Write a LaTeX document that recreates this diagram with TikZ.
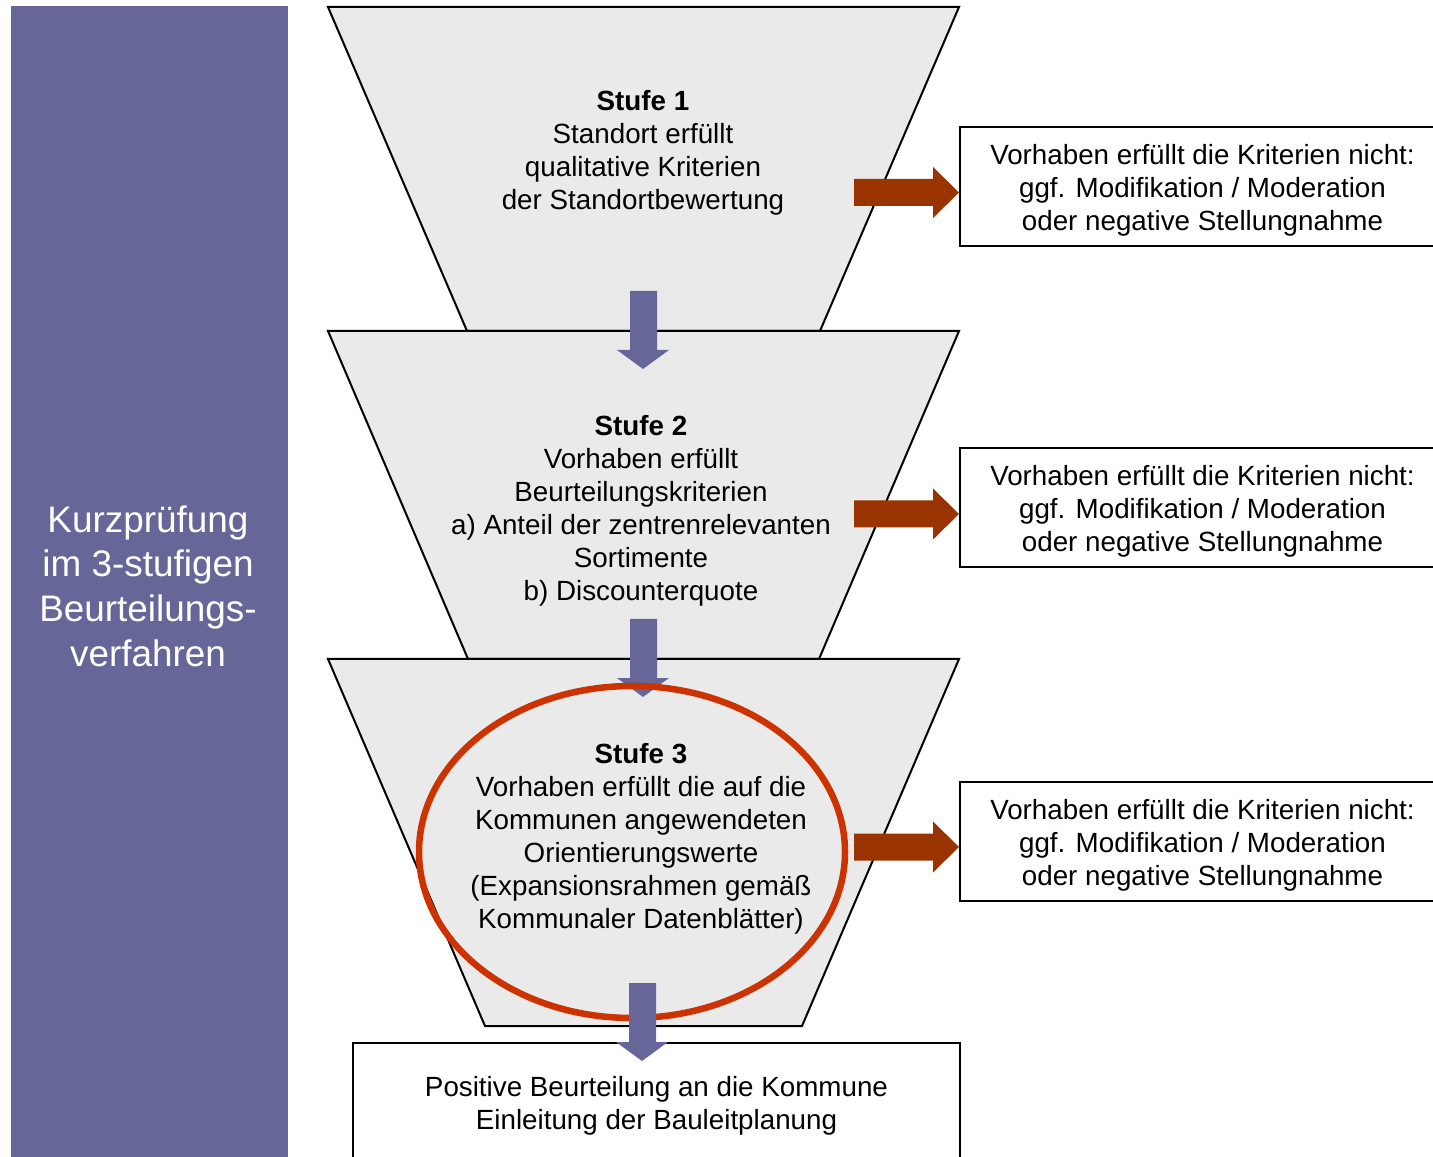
\documentclass[tikz,border=0pt]{standalone}
\usepackage{fontspec}
\setmainfont{Liberation Sans}
\definecolor{bandcolor}{HTML}{666699}
\definecolor{funnelgray}{HTML}{EAEAEA}
\definecolor{rust}{HTML}{993300}
\definecolor{ringred}{HTML}{CC3300}
\tikzset{
  downarrow/.pic={
    \fill[bandcolor] (-13,0) -- (14,0) -- (14,59) -- (26,59) -- (0,78) -- (-26,59) -- (-13,59) -- cycle;
  },
  rightarrow/.pic={
    \fill[rust] (0,-13.5) -- (79,-13.5) -- (79,-25.5) -- (105,0) -- (79,25.5) -- (79,13.5) -- (0,13.5) -- cycle;
  }
}
\begin{document}
\begin{tikzpicture}[x=0.1mm,y=-0.1mm,
    funnel/.style={fill=funnelgray,draw=black,line width=0.2mm},
    stage/.style={align=center,font=\fontsize{7.9}{9.4}\selectfont},
    nobox/.style={draw=black,line width=0.2mm,fill=white,align=center,
      font=\fontsize{7.9}{9.4}\selectfont,minimum width=48.5mm,minimum height=11.9mm,
      text depth=0pt}]
  \path[use as bounding box,fill=white] (0,0) rectangle (1433,1157);
  \clip (0,0) rectangle (1433,1157);
  % side band
  \node[fill=bandcolor,minimum width=27.7mm,minimum height=115.4mm] (band) at (149.5,583) {};
  \node[text=white,align=center,font=\fontsize{10.5}{12.7}\selectfont] (bandtext) at (148,586)
    {Kurzprüfung\\im 3-stufigen\\Beurteilungs-\\verfahren};
  % funnel
  \filldraw[funnel] (328,7) -- (959,7) -- (820,331) -- (467,331) -- cycle;
  \filldraw[funnel] (328,331) -- (959,331) -- (819,659) -- (468,659) -- cycle;
  \filldraw[funnel] (328,659) -- (959,659) -- (802,1026) -- (485,1026) -- cycle;
  \node[stage] (stufe1) at (643,153)
    {\textbf{Stufe 1}\\Standort erfüllt\\qualitative Kriterien\\der Standortbewertung};
  \node[stage] (stufe2) at (641,511)
    {\textbf{Stufe 2}\\Vorhaben erfüllt\\Beurteilungskriterien\\a) Anteil der zentrenrelevanten\\Sortimente\\b) Discounterquote};
  \node[stage] (stufe3) at (641,839)
    {\textbf{Stufe 3}\\Vorhaben erfüllt die auf die\\Kommunen angewendeten\\Orientierungswerte\\(Expansionsrahmen gemäß\\Kommunaler Datenblätter)};
  % arrows down
  \pic at (643,291) {downarrow};
  \pic at (643,619) {downarrow};
  % ring
  \draw[ringred,line width=0.65mm] (632,852) ellipse [x radius=213,y radius=166];
  % result
  \node[draw=black,line width=0.2mm,fill=white,minimum width=60.7mm,minimum height=12mm] (result) at (656.5,1103) {};
  \node[stage] (resulttext) at (656.5,1106)
    {Positive Beurteilung an die Kommune\\Einleitung der Bauleitplanung};
  \pic at (642,983) {downarrow};
  % right hand
  \foreach \n/\y in {1/186.5,2/507.5,3/841}{
    \node[nobox] (no\n) at (1202.5,\y) {};
    \node[stage] at ([yshift=-0.4mm]no\n.center)
      {Vorhaben erfüllt die Kriterien nicht:\\ggf. Modifikation / Moderation\\oder negative Stellungnahme};
  }
  \foreach \y in {192.5,514,847}
    \pic at (854,\y) {rightarrow};
\end{tikzpicture}
\end{document}
